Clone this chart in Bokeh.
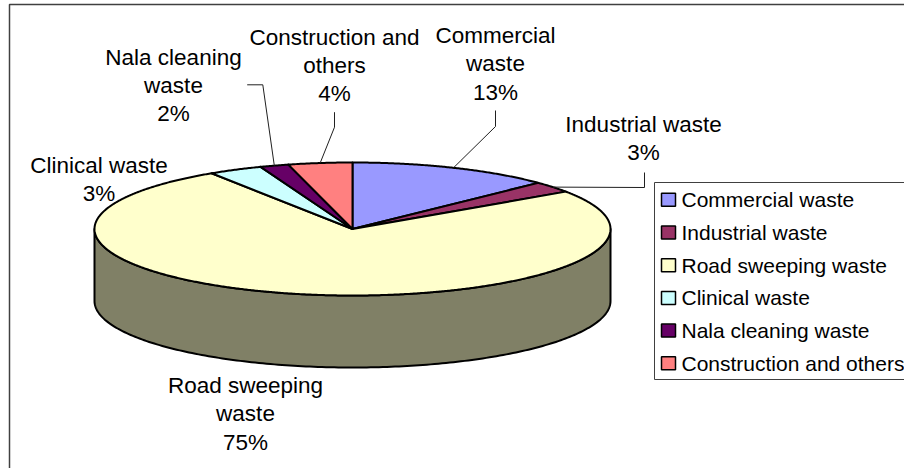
import numpy as np
from bokeh.plotting import figure
from bokeh.models import Range1d
from bokeh.embed import file_html
from bokeh.resources import INLINE
from bokeh.core.properties import value

# ---- data ----
categories = ["Commercial waste", "Industrial waste", "Road sweeping waste",
              "Clinical waste", "Nala cleaning waste", "Construction and others"]
shares = [12.8, 2.7, 75.3, 3.4, 1.8, 4.0]
colors = ["#9999FF", "#993366", "#FFFFCC", "#CCFFFF", "#660066", "#FF8080"]
side_colors = ["#4D4D80", "#4D1A33", "#808066", "#668080", "#330033", "#804040"]
label_lines = [["Commercial", "waste"], ["Industrial waste"], ["Road sweeping", "waste"],
               ["Clinical waste"], ["Nala cleaning", "waste"], ["Construction and", "others"]]

# ---- layout ----
W, H = 904, 468
CX, CY, RX, RY, DEPTH = 352.0, 228.5, 258.0, 66.5, 72.0
FONT = "Liberation Sans"
label_pos = [(495, 35), (643, 124), (245, 385), (98.5, 165), (173, 56.7), (334, 36.7)]
label_step = 28.3
leader_elbows = {0: [(495, 110), (495, 126)], 1: [(644, 172), (644, 187)],
                 4: [(246.7, 84.3), (262.3, 84.3)], 5: [(334, 111.7), (334, 126.7)]}

p = figure(width=W, height=H, x_range=Range1d(0, W), y_range=Range1d(H, 0),
           x_axis_type=None, y_axis_type=None, output_backend="svg",
           toolbar_location=None, min_border=0)
p.grid.visible = False
p.outline_line_color = None
p.background_fill_color = "white"
p.border_fill_color = "white"

def pt(theta_deg, dz=0.0):
    t = np.radians(theta_deg)
    return CX + RX * np.sin(t), CY - RY * np.cos(t) + dz

total = float(sum(shares))
starts, ends = [], []
acc = 0.0
for v in shares:
    starts.append(acc / total * 360.0)
    acc += v
    ends.append(acc / total * 360.0)

# outer chart border
p.quad(left=[9], right=[940], top=[4], bottom=[500], fill_color=None,
       line_color="#404040", line_width=1.5)

# side walls (front half: 90..270 deg)
for i in range(len(shares)):
    a, b = max(starts[i], 90.0), min(ends[i], 270.0)
    if b <= a:
        continue
    th = np.linspace(a, b, 200)
    xt, yt = pt(th)
    xb, yb = pt(th[::-1], DEPTH)
    p.patch(np.concatenate([xt, xb]), np.concatenate([yt, yb]),
            fill_color=side_colors[i], line_color="black", line_width=2,
            line_join="round")

# top slices
for i in range(len(shares)):
    th = np.linspace(starts[i], ends[i], max(10, int((ends[i] - starts[i]) * 3)))
    xs, ys = pt(th)
    p.patch(np.concatenate([[CX], xs, [CX]]), np.concatenate([[CY], ys, [CY]]),
            fill_color=colors[i], line_color="black", line_width=2, line_join="round")

# leader lines
for i, elbow in leader_elbows.items():
    mx, my = pt((starts[i] + ends[i]) / 2.0)
    xs = [e[0] for e in elbow] + [mx]
    ys = [e[1] for e in elbow] + [my]
    p.line(xs, ys, line_color="#202020", line_width=1)

# data labels
for i, v in enumerate(shares):
    lines = label_lines[i] + [f"{round(v)}%"]
    x0, y0 = label_pos[i]
    p.text(x=[x0] * len(lines), y=[y0 + k * label_step for k in range(len(lines))],
           text=lines, text_align="center", text_baseline="middle",
           text_font=value(FONT), text_font_size="22.5px", text_color="black")

# legend
p.quad(left=[654], right=[940], top=[182], bottom=[379], fill_color="white",
       line_color="#404040", line_width=1)
for i, name in enumerate(categories):
    ry = 199.3 + i * 32.7
    p.quad(left=[661], right=[675], top=[ry - 6.5], bottom=[ry + 6.5],
           fill_color=colors[i], line_color="black", line_width=1.5)
    p.text(x=[681], y=[ry], text=[name], text_align="left", text_baseline="middle",
           text_font=value(FONT), text_font_size="21px", text_color="black")

open("out.html", "w").write(file_html(p, INLINE))
